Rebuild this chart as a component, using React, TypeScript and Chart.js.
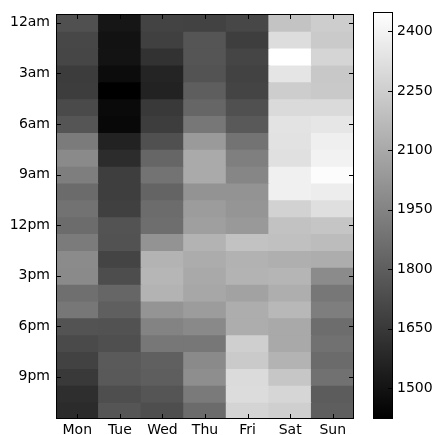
import React, { useEffect, useRef } from "react";
import { Chart, registerables } from "chart.js";

Chart.register(...registerables);

// Weekday columns and hour-of-day rows (0 = 12am ... 23 = 11pm)
const days = ["Mon", "Tue", "Wed", "Thu", "Fri", "Sat", "Sun"];
const hourTickLabels = ["12am", "3am", "6am", "9am", "12pm", "3pm", "6pm", "9pm"];
const hourTickStep = 3;
const colorbarTicks = [1500, 1650, 1800, 1950, 2100, 2250, 2400];

// Average activity per hour, one array per weekday
const mon = [1744, 1708, 1704, 1663, 1667, 1720, 1764, 1917, 1977, 1929, 1853, 1881, 1857, 1917, 1981, 1977, 1869, 1901, 1756, 1720, 1688, 1651, 1607, 1595];
const tue = [1511, 1494, 1498, 1470, 1422, 1462, 1454, 1559, 1599, 1671, 1671, 1680, 1756, 1752, 1696, 1732, 1832, 1804, 1752, 1740, 1784, 1780, 1736, 1764];
const wed = [1692, 1680, 1623, 1567, 1559, 1651, 1667, 1744, 1832, 1885, 1824, 1857, 1865, 2014, 2142, 2154, 2142, 2018, 1949, 1901, 1808, 1800, 1764, 1736];
const thu = [1688, 1764, 1764, 1756, 1800, 1832, 1901, 2042, 2106, 2106, 2014, 2050, 2062, 2142, 2114, 2102, 2094, 2050, 1973, 1901, 1977, 1993, 1913, 1853];
const fri = [1708, 1671, 1700, 1688, 1696, 1744, 1780, 1885, 1933, 1961, 2014, 2022, 2038, 2203, 2138, 2142, 2074, 2118, 2118, 2255, 2235, 2303, 2307, 2275];
const sat = [2207, 2311, 2448, 2343, 2247, 2299, 2335, 2331, 2323, 2388, 2388, 2267, 2203, 2195, 2126, 2150, 2122, 2162, 2102, 2102, 2142, 2219, 2283, 2255];
const sun = [2247, 2235, 2279, 2227, 2231, 2299, 2348, 2384, 2396, 2436, 2376, 2319, 2215, 2179, 2118, 1981, 1901, 1929, 1861, 1877, 1853, 1877, 1792, 1800];

const byDay = [mon, tue, wed, thu, fri, sat, sun];
const allValues = byDay.flat();
const vmin = Math.min(...allValues);
const vmax = Math.max(...allValues);

const FONT = { family: "'DejaVu Sans', sans-serif", size: 14 };
const TICK_LEN = 4.5;

function grayFor(v: number): string {
  const t = Math.max(0, Math.min(1, (v - vmin) / (vmax - vmin)));
  const c = Math.round(t * 255);
  return `rgb(${c},${c},${c})`;
}

// Black frame with inward-pointing ticks on all four sides
const framePlugin = {
  id: "frameTicks",
  afterDraw(chart: any, _args: any, opts: any) {
    const { ctx, chartArea: a, scales } = chart;
    const L = Math.round(a.left) + 0.5;
    const R = Math.round(a.right) - 0.5;
    const T = Math.round(a.top) + 0.5;
    const B = Math.round(a.bottom) - 0.5;
    ctx.save();
    ctx.strokeStyle = "#000";
    ctx.lineWidth = 1;
    ctx.beginPath();
    if (opts.xTicks && scales.x) {
      scales.x.ticks.forEach((_t: any, i: number) => {
        const px = Math.round(scales.x.getPixelForTick(i)) + 0.5;
        ctx.moveTo(px, B);
        ctx.lineTo(px, B - TICK_LEN);
        ctx.moveTo(px, T);
        ctx.lineTo(px, T + TICK_LEN);
      });
    }
    if (scales.y) {
      scales.y.ticks.forEach((_t: any, i: number) => {
        const py = Math.round(scales.y.getPixelForTick(i)) + 0.5;
        if (opts.leftTicks) {
          ctx.moveTo(L, py);
          ctx.lineTo(L + TICK_LEN, py);
        }
        ctx.moveTo(R, py);
        ctx.lineTo(R - TICK_LEN, py);
      });
    }
    ctx.stroke();
    ctx.strokeRect(L, T, R - L, B - T);
    ctx.restore();
  },
};

function Heatmap() {
  const ref = useRef<HTMLCanvasElement | null>(null);
  useEffect(() => {
    if (!ref.current) return;
    const datasets = Array.from({ length: 24 }, (_, h) => ({
      label: `h${h}`,
      data: days.map(() => [h, h + 1]),
      backgroundColor: byDay.map((col) => grayFor(col[h])),
      borderWidth: 0,
      barPercentage: 1,
      categoryPercentage: 1,
      grouped: false,
      inflateAmount: 0.5,
    }));
    const chart = new Chart(ref.current, {
      type: "bar",
      data: { labels: days, datasets: datasets as any },
      plugins: [framePlugin],
      options: {
        animation: false,
        responsive: false,
        maintainAspectRatio: false,
        layout: { padding: { left: 0, right: 6, top: 9, bottom: 0 } },
        plugins: {
          legend: { display: false },
          tooltip: { enabled: false },
          frameTicks: { xTicks: true, leftTicks: true },
        } as any,
        scales: {
          x: {
            type: "category",
            offset: true,
            grid: { display: false, drawTicks: false },
            border: { display: false },
            ticks: { font: FONT, color: "#000", padding: 3, maxRotation: 0 },
            afterFit: (s: any) => {
              s.height = 16;
            },
          },
          y: {
            type: "linear",
            min: 0,
            max: 24,
            reverse: true,
            grid: { display: false, drawTicks: false },
            border: { display: false },
            afterBuildTicks: (s: any) => {
              s.ticks = hourTickLabels.map((_l, i) => ({ value: i * hourTickStep + 0.5 }));
            },
            ticks: {
              font: FONT,
              color: "#000",
              padding: 6,
              callback: (v: any) => hourTickLabels[Math.floor(Number(v) / hourTickStep)] ?? "",
            },
            afterFit: (s: any) => {
              s.width = 56;
            },
          },
        },
      },
    });
    return () => chart.destroy();
  }, []);
  return <canvas ref={ref} width={360} height={435} style={{ position: "absolute", left: 0, top: 0 }} />;
}

function Colorbar() {
  const ref = useRef<HTMLCanvasElement | null>(null);
  useEffect(() => {
    if (!ref.current) return;
    const chart = new Chart(ref.current, {
      type: "bar",
      data: {
        labels: ["scale"],
        datasets: [
          {
            data: [[vmin, vmax]] as any,
            borderWidth: 0,
            barPercentage: 1,
            categoryPercentage: 1,
            backgroundColor: (c: any) => {
              const area = c.chart.chartArea;
              if (!area) return "#808080";
              const g = c.chart.ctx.createLinearGradient(0, area.bottom, 0, area.top);
              g.addColorStop(0, "#000000");
              g.addColorStop(1, "#ffffff");
              return g;
            },
          },
        ],
      },
      plugins: [framePlugin],
      options: {
        animation: false,
        responsive: false,
        maintainAspectRatio: false,
        layout: { padding: { left: 13, right: 0, top: 9, bottom: 16 } },
        plugins: {
          legend: { display: false },
          tooltip: { enabled: false },
          frameTicks: { xTicks: false, leftTicks: false },
        } as any,
        scales: {
          x: { type: "category", display: false, offset: true },
          y: {
            type: "linear",
            position: "right",
            min: vmin,
            max: vmax,
            grid: { display: false, drawTicks: false },
            border: { display: false },
            afterBuildTicks: (s: any) => {
              s.ticks = colorbarTicks.map((v) => ({ value: v }));
            },
            ticks: { font: FONT, color: "#000", padding: 4, callback: (v: any) => String(v) },
            afterFit: (s: any) => {
              s.width = 42;
            },
          },
        },
      },
    });
    return () => chart.destroy();
  }, []);
  return <canvas ref={ref} width={75} height={435} style={{ position: "absolute", left: 360, top: 0 }} />;
}

export default function App() {
  return (
    <div style={{ position: "absolute", left: 0, top: 0, width: 435, height: 435, background: "#fff" }}>
      <Heatmap />
      <Colorbar />
    </div>
  );
}
